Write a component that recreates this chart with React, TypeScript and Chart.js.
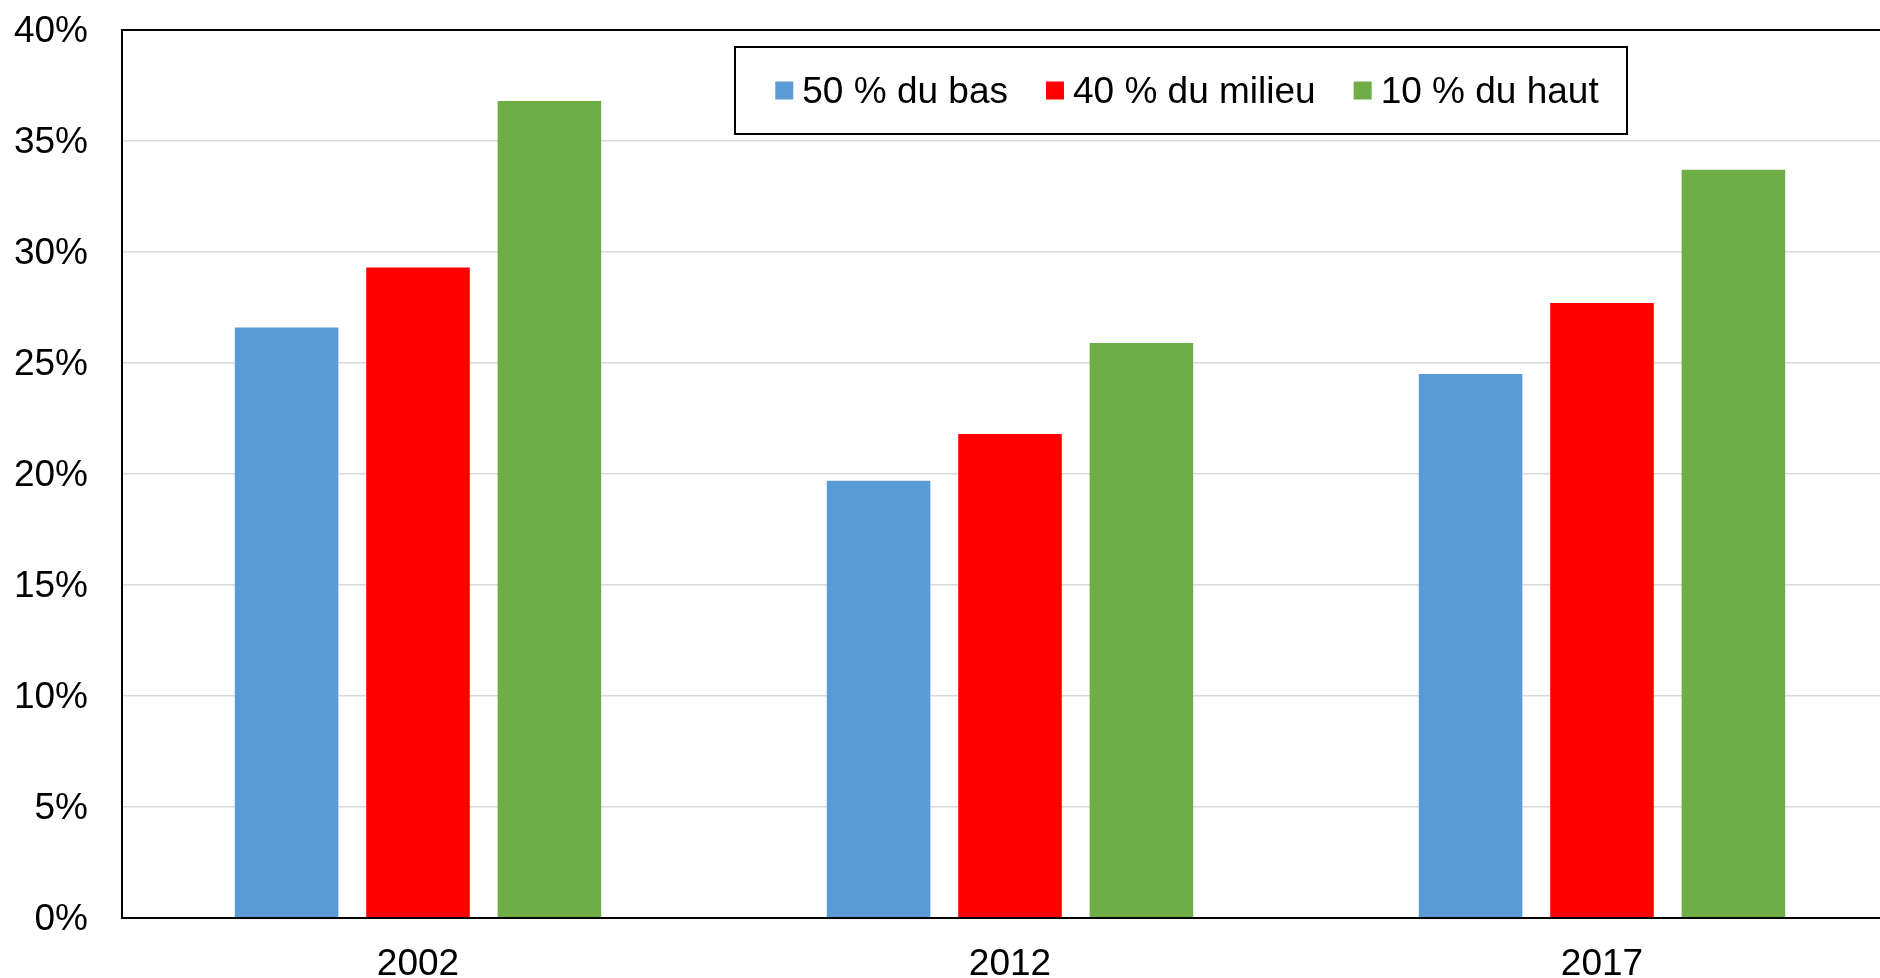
import React, { useEffect, useRef } from "react";
import { Chart, registerables } from "chart.js";

Chart.register(...registerables);

const categories = ["2002", "2012", "2017"];
const seriesNames = ["50 % du bas", "40 % du milieu", "10 % du haut"];
const basValues = [26.6, 19.7, 24.5];
const milieuValues = [29.3, 21.8, 27.7];
const hautValues = [36.8, 25.9, 33.7];
const seriesColors = ["#5B9BD5", "#FF0000", "#70AD47"];
const yMin = 0;
const yMax = 40;
const yStep = 5;

const FONT = "'Liberation Sans', Arial, Helvetica, sans-serif";
const FONT_SIZE = 37;

const frameplugin = {
  id: "plotFrame",
  afterDraw(chart: any) {
    const { ctx, chartArea } = chart;
    ctx.save();
    ctx.strokeStyle = "#000000";
    ctx.lineWidth = 2;
    ctx.strokeRect(
      chartArea.left,
      chartArea.top,
      chartArea.right - chartArea.left,
      chartArea.bottom - chartArea.top
    );
    ctx.restore();
  },
};

const boxLegendPlugin = {
  id: "boxLegend",
  afterDraw(chart: any) {
    const ctx = chart.ctx;
    const box = { x: 735, y: 47, w: 892, h: 87 };
    ctx.save();
    ctx.fillStyle = "#ffffff";
    ctx.fillRect(box.x, box.y, box.w, box.h);
    ctx.lineWidth = 2;
    ctx.strokeStyle = "#000000";
    ctx.strokeRect(box.x, box.y, box.w, box.h);
    ctx.font = `${FONT_SIZE}px ${FONT}`;
    ctx.textBaseline = "middle";
    ctx.textAlign = "left";
    const marker = 18;
    const gapMT = 9;
    const gapItems = 38;
    const items = chart.data.datasets.map((ds: any) => ({
      label: ds.label as string,
      color: ds.backgroundColor as string,
      w: ctx.measureText(ds.label).width,
    }));
    const total =
      items.reduce((s: number, it: any) => s + marker + gapMT + it.w, 0) +
      gapItems * (items.length - 1);
    let x = box.x + (box.w - total) / 2 + 6;
    const cy = box.y + box.h / 2;
    items.forEach((it: any) => {
      ctx.fillStyle = it.color;
      ctx.fillRect(x, cy - marker / 2, marker, marker);
      ctx.fillStyle = "#000000";
      ctx.fillText(it.label, x + marker + gapMT, cy + 2);
      x += marker + gapMT + it.w + gapItems;
    });
    ctx.restore();
  },
};

export default function App() {
  const canvasRef = useRef<HTMLCanvasElement | null>(null);

  useEffect(() => {
    if (!canvasRef.current) return;
    const seriesValues = [basValues, milieuValues, hautValues];
    const chart = new Chart(canvasRef.current, {
      type: "bar",
      data: {
        labels: categories,
        datasets: seriesNames.map((name, i) => ({
          label: name,
          data: seriesValues[i],
          backgroundColor: seriesColors[i],
          borderWidth: 0,
          categoryPercentage: 0.666,
          barPercentage: 0.788,
        })),
      },
      options: {
        responsive: false,
        animation: false,
        devicePixelRatio: 1,
        layout: { padding: { left: 0, right: 0, top: 30, bottom: 0 } },
        plugins: {
          legend: { display: false },
          tooltip: { enabled: false },
          title: { display: false },
        },
        scales: {
          x: {
            grid: { display: false, drawTicks: false },
            border: { display: false },
            ticks: {
              color: "#000000",
              font: { family: FONT, size: FONT_SIZE },
              padding: 25,
              maxRotation: 0,
            },
            afterFit(scale: any) {
              scale.height = 60;
              scale.paddingLeft = 0;
              scale.paddingRight = 0;
            },
          },
          y: {
            min: yMin,
            max: yMax,
            grid: { color: "#d9d9d9", lineWidth: 1.5, drawTicks: false },
            border: { display: false },
            ticks: {
              stepSize: yStep,
              color: "#000000",
              font: { family: FONT, size: FONT_SIZE },
              padding: 34,
              labelOffset: 2,
              callback: (v: any) => `${v}%`,
            },
            afterFit(scale: any) {
              scale.width = 122;
              scale.paddingTop = 0;
              scale.paddingBottom = 0;
            },
          },
        },
      },
      plugins: [frameplugin, boxLegendPlugin],
    });
    return () => chart.destroy();
  }, []);

  return (
    <div
      style={{
        position: "fixed",
        left: 0,
        top: 0,
        width: 1880,
        height: 978,
        overflow: "hidden",
        background: "#ffffff",
      }}
    >
      <canvas
        ref={canvasRef}
        width={1898}
        height={978}
        style={{ display: "block", width: 1898, height: 978 }}
      />
    </div>
  );
}
